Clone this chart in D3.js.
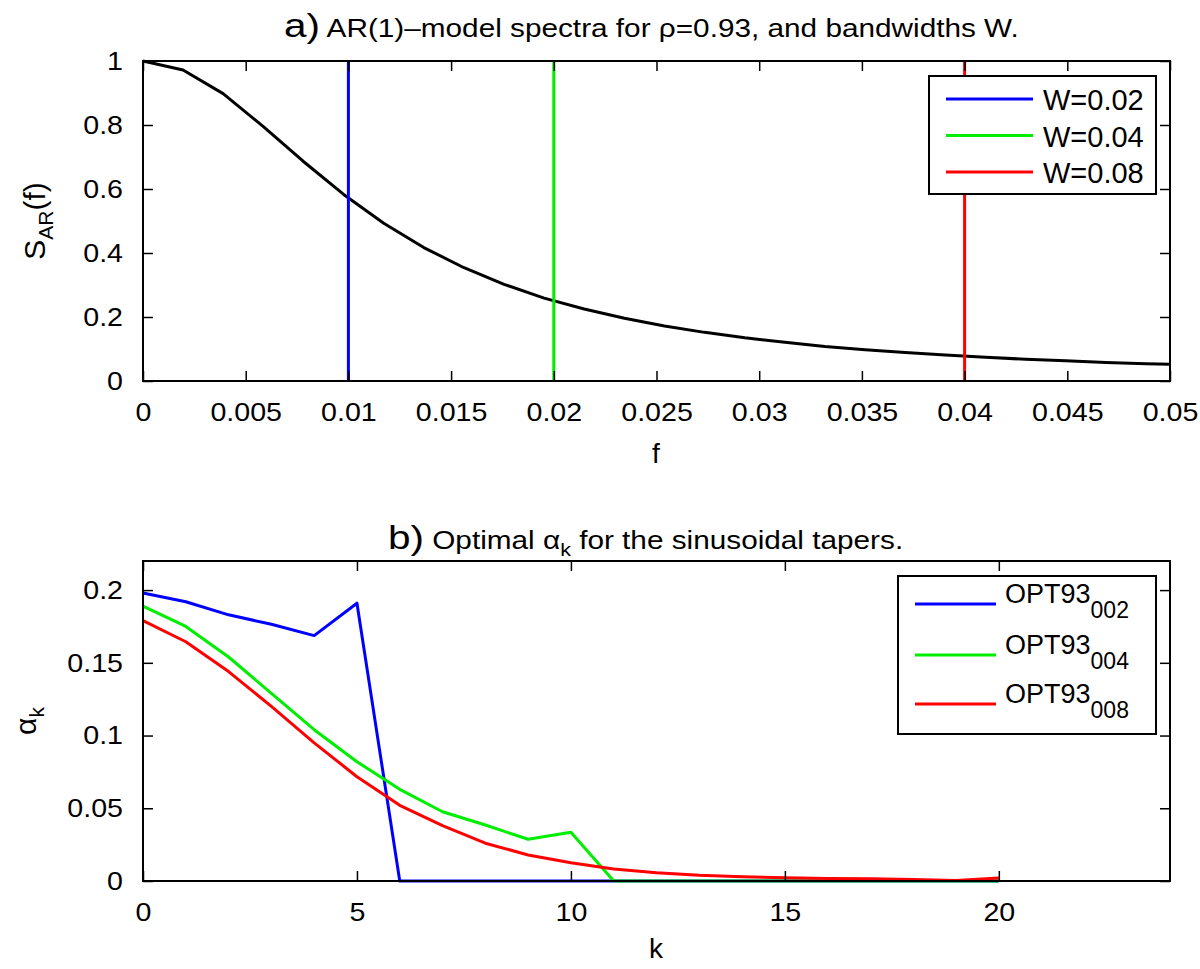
<!DOCTYPE html>
<html><head><meta charset="utf-8">
<script src="https://cdn.jsdelivr.net/npm/d3@7"></script>
<style>
body{margin:0;background:#fff}
text{font-family:"Liberation Sans",Arial,Helvetica,sans-serif;fill:#000}
</style>
</head><body>
<svg id="c" width="1200" height="969"></svg>
<script>
// ---------- Panel a data ----------
const specF = [0, 0.00195, 0.0039, 0.00586, 0.00781, 0.00977, 0.01172, 0.01367, 0.01563, 0.01758,
  0.01953, 0.02148, 0.02344, 0.02539, 0.02734, 0.0293, 0.03125, 0.0332, 0.03516, 0.03711,
  0.03906, 0.04102, 0.04297, 0.04492, 0.04688, 0.04883, 0.05];
const specS = [1, 0.972, 0.898, 0.795, 0.686, 0.583, 0.493, 0.417, 0.354, 0.302,
  0.259, 0.225, 0.196, 0.172, 0.152, 0.135, 0.121, 0.108, 0.098, 0.089,
  0.081, 0.074, 0.068, 0.063, 0.058, 0.054, 0.052];
const bandLabels = ["W=0.02", "W=0.04", "W=0.08"];
const bandHalfF = [0.01, 0.02, 0.04];
const bandColors = ["#0000ff", "#00ee00", "#ff0000"];
const xTicksA = [0, 0.005, 0.01, 0.015, 0.02, 0.025, 0.03, 0.035, 0.04, 0.045, 0.05];
const xTickLabelsA = ["0", "0.005", "0.01", "0.015", "0.02", "0.025", "0.03", "0.035", "0.04", "0.045", "0.05"];
const yTicksA = [0, 0.2, 0.4, 0.6, 0.8, 1];
const yTickLabelsA = ["0", "0.2", "0.4", "0.6", "0.8", "1"];

// ---------- Panel b data ----------
const kVals = [0,1,2,3,4,5,6,7,8,9,10,11,12,13,14,15,16,17,18,19,20];
const opt002 = [0.198,0.192,0.183,0.1765,0.1687,0.191,0,0,0,0,0,0,0,0,0,0,0,0,0,0,0];
const opt004 = [0.189,0.175,0.154,0.129,0.104,0.082,0.063,0.0476,0.0385,0.0287,0.0335,0,0,0,0,0,0,0,0,0,0];
const opt008 = [0.179,0.1645,0.144,0.12,0.095,0.0717,0.052,0.038,0.026,0.0179,0.0126,0.0083,0.0057,0.004,0.003,0.0022,0.0018,0.0015,0.001,0.0003,0.002];
const optSubs = ["002", "004", "008"];
const xTicksB = [0, 5, 10, 15, 20];
const xTickLabelsB = ["0", "5", "10", "15", "20"];
const yTicksB = [0, 0.05, 0.1, 0.15, 0.2];
const yTickLabelsB = ["0", "0.05", "0.1", "0.15", "0.2"];

const svg = d3.select("#c");
const L = 143, R = 1170;
const TICK_FS = 26, TICK_SX = 1.1, TITLE_SX = 1.19;

function frame(g, x, y, xt, xl, yt, yl, top, bot) {
  const fmt = (ticks, labels) => (d => labels[ticks.indexOf(d)]);
  const ax = g.append("g").attr("transform", `translate(0,${bot})`)
    .call(d3.axisBottom(x).tickValues(xt).tickSize(-10).tickPadding(21.5).tickFormat(fmt(xt, xl)));
  const axT = g.append("g").attr("transform", `translate(0,${top})`)
    .call(d3.axisTop(x).tickValues(xt).tickSize(-10).tickFormat(""));
  const ay = g.append("g").attr("transform", `translate(${L},0)`)
    .call(d3.axisLeft(y).tickValues(yt).tickSize(-10).tickPadding(20 / TICK_SX).tickFormat(fmt(yt, yl)));
  const ayR = g.append("g").attr("transform", `translate(${R},0)`)
    .call(d3.axisRight(y).tickValues(yt).tickSize(-10).tickFormat(""));
  [ax, axT, ay, ayR].forEach(a => {
    a.select(".domain").remove();
    a.selectAll(".tick line").attr("stroke", "#000").attr("stroke-width", 1.5);
    a.selectAll("text").attr("font-size", TICK_FS).attr("font-family", '"Liberation Sans",Arial,sans-serif')
      .attr("fill", "#000").attr("transform", `scale(${TICK_SX},1)`);
  });
  g.append("rect").attr("x", L).attr("y", top).attr("width", R - L).attr("height", bot - top)
    .attr("fill", "none").attr("stroke", "#000").attr("stroke-width", 2);
}

// ================= Panel a =================
{
  const top = 61, bot = 381;
  const x = d3.scaleLinear().domain([0, 0.05]).range([L, R]);
  const y = d3.scaleLinear().domain([0, 1]).range([bot, top]);
  const g = svg.append("g");
  const line = d3.line().x((d, i) => x(specF[i])).y(d => y(d));
  g.append("path").datum(specS).attr("d", line).attr("fill", "none")
    .attr("stroke", "#000").attr("stroke-width", 3).attr("stroke-linejoin", "round");
  g.selectAll("line.band").data(bandHalfF).join("line").attr("class", "band")
    .attr("x1", d => x(d)).attr("x2", d => x(d)).attr("y1", y(0)).attr("y2", y(1))
    .attr("stroke", (d, i) => bandColors[i]).attr("stroke-width", 3);
  frame(g, x, y, xTicksA, xTickLabelsA, yTicksA, yTickLabelsA, top, bot);

  // legend
  const lg = g.append("g");
  lg.append("rect").attr("x", 929).attr("y", 76).attr("width", 227).attr("height", 118)
    .attr("fill", "#fff").attr("stroke", "#000").attr("stroke-width", 2);
  bandLabels.forEach((lab, i) => {
    const yy = 99 + i * 36.5;
    lg.append("line").attr("x1", 946).attr("x2", 1033).attr("y1", yy).attr("y2", yy)
      .attr("stroke", bandColors[i]).attr("stroke-width", 3);
    lg.append("text").attr("x", 1043).attr("y", yy + 11).attr("font-size", 29).text(lab);
  });

  // title
  const t = svg.append("text").attr("transform", `translate(284,37) scale(${TITLE_SX},1)`);
  t.append("tspan").attr("font-size", 34).text("a)");
  t.append("tspan").attr("font-size", 25).text(" AR(1)\u2013model spectra for \u03c1=0.93, and bandwidths W.");

  // axis labels
  svg.append("text").attr("x", 656).attr("y", 463).attr("text-anchor", "middle").attr("font-size", 28).text("f");
  const yl = svg.append("text").attr("transform", "translate(45,221) rotate(-90)").attr("text-anchor", "middle");
  yl.append("tspan").attr("font-size", 30).text("S");
  yl.append("tspan").attr("font-size", 21).attr("dy", 8).text("AR");
  yl.append("tspan").attr("font-size", 30).attr("dy", -8).text("(f)");
}

// ================= Panel b =================
{
  const top = 561, bot = 881;
  const x = d3.scaleLinear().domain([0, 24]).range([L, R]);
  const y = d3.scaleLinear().domain([0, 0.22]).range([bot, top]);
  const g = svg.append("g");
  const series = [opt002, opt004, opt008];
  const line = d3.line().x((d, i) => x(kVals[i])).y(d => y(d));
  series.forEach((s, i) => {
    g.append("path").datum(s).attr("d", line).attr("fill", "none")
      .attr("stroke", bandColors[i]).attr("stroke-width", 3).attr("stroke-linejoin", "round");
  });
  frame(g, x, y, xTicksB, xTickLabelsB, yTicksB, yTickLabelsB, top, bot);

  // legend
  const lg = g.append("g");
  lg.append("rect").attr("x", 898).attr("y", 576).attr("width", 258).attr("height", 158)
    .attr("fill", "#fff").attr("stroke", "#000").attr("stroke-width", 2);
  optSubs.forEach((sub, i) => {
    const yy = [604, 655, 704][i];
    lg.append("line").attr("x1", 915).attr("x2", 996).attr("y1", yy).attr("y2", yy)
      .attr("stroke", bandColors[i]).attr("stroke-width", 3);
    const tx = lg.append("text").attr("x", 1005).attr("y", yy - 1);
    tx.append("tspan").attr("font-size", 27).text("OPT93");
    tx.append("tspan").attr("font-size", 23).attr("dy", 15).text(sub);
  });

  // title
  const t = svg.append("text").attr("transform", `translate(388,549) scale(${TITLE_SX},1)`);
  t.append("tspan").attr("font-size", 34).text("b)");
  t.append("tspan").attr("font-size", 25).text(" Optimal \u03b1");
  t.append("tspan").attr("font-size", 18).attr("dy", 7).text("k");
  t.append("tspan").attr("font-size", 25).attr("dy", -7).text(" for the sinusoidal tapers.");

  svg.append("text").attr("x", 656).attr("y", 958).attr("text-anchor", "middle").attr("font-size", 28).text("k");
  const yl = svg.append("text").attr("transform", "translate(36,721) rotate(-90)").attr("text-anchor", "middle");
  yl.append("tspan").attr("font-size", 30).text("\u03b1");
  yl.append("tspan").attr("font-size", 21).attr("dy", 8).text("k");
}
</script>
</body></html>
